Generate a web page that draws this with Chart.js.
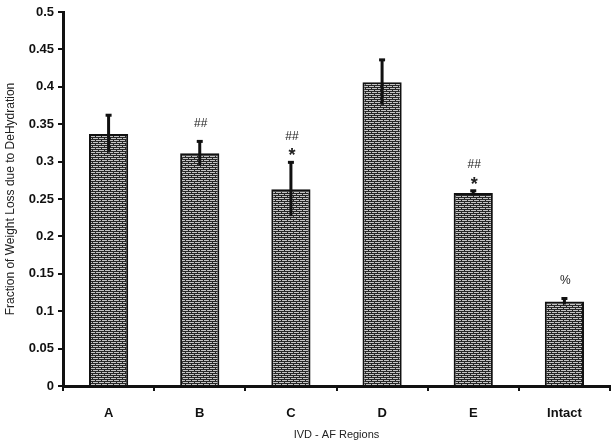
<!DOCTYPE html>
<html>
<head>
<meta charset="utf-8">
<script src="https://cdn.jsdelivr.net/npm/chart.js@4"></script>
<style>
  body { margin: 0; background: #fff; }
  #wrap { width: 616px; height: 446px; }
</style>
</head>
<body>
<div id="wrap"><canvas id="weightChart" width="616" height="446"></canvas></div>
<script>
const regions = ['A', 'B', 'C', 'D', 'E', 'Intact'];
const fractionLoss = [0.337, 0.311, 0.263, 0.406, 0.258, 0.113];
const errorUp = [0.025, 0.016, 0.036, 0.030, 0.003, 0.004];
const hashMarks = ['', '##', '##', '', '##', '%'];
const starMarks = ['', '', '*', '', '*', ''];
const yTicks = [0, 0.05, 0.1, 0.15, 0.2, 0.25, 0.3, 0.35, 0.4, 0.45, 0.5];
const yTickLabels = ['0', '0.05', '0.1', '0.15', '0.2', '0.25', '0.3', '0.35', '0.4', '0.45', '0.5'];

// brick-like fill used by the bars
function brickPattern() {
    const c = document.createElement('canvas');
    c.width = 6;
    c.height = 4;
    const g = c.getContext('2d');
    g.fillStyle = '#262626';
    g.fillRect(0, 0, 6, 4);
    g.fillStyle = '#c4c4c4';
    g.fillRect(0, 0, 5, 1);
    g.fillRect(3, 2, 6, 1);
    g.fillRect(0, 2, 2, 1);
    return g.createPattern(c, 'repeat');
}

// error whiskers + significance marks
const errorBars = {
    id: 'errorBars',
    afterDatasetsDraw(chart) {
        const ctx = chart.ctx;
        const y = chart.scales.y;
        const meta = chart.getDatasetMeta(0);
        ctx.save();
        ctx.strokeStyle = '#111';
        ctx.lineWidth = 3;
        meta.data.forEach((bar, i) => {
            const top = y.getPixelForValue(fractionLoss[i] + errorUp[i]);
            const low = y.getPixelForValue(fractionLoss[i] - errorUp[i]);
            ctx.beginPath();
            ctx.moveTo(bar.x, low);
            ctx.lineTo(bar.x, top);
            ctx.stroke();
            ctx.beginPath();
            ctx.moveTo(bar.x - 3, top);
            ctx.lineTo(bar.x + 3, top);
            ctx.stroke();

            ctx.textAlign = 'center';
            ctx.textBaseline = 'middle';
            ctx.fillStyle = '#222';
            if (starMarks[i]) {
                ctx.font = 'bold 18px "Liberation Sans", Arial, sans-serif';
                ctx.fillText(starMarks[i], bar.x + 1, top - 6);
                ctx.font = '12px "Liberation Sans", Arial, sans-serif';
                ctx.fillText(hashMarks[i], bar.x + 1, top - 26);
            } else if (hashMarks[i]) {
                ctx.font = '12px "Liberation Sans", Arial, sans-serif';
                ctx.fillText(hashMarks[i], bar.x + 1, top - 18);
            }
        });
        ctx.restore();
    }
};

const ctx = document.getElementById('weightChart').getContext('2d');
new Chart(ctx, {
    type: 'bar',
    data: {
        labels: regions,
        datasets: [{
            data: fractionLoss,
            backgroundColor: brickPattern(),
            borderColor: '#111',
            borderWidth: 2,
            categoryPercentage: 1,
            barPercentage: 0.43
        }]
    },
    options: {
        responsive: false,
        animation: false,
        events: [],
        layout: { padding: { top: 12, right: 6, left: 3, bottom: 0 } },
        plugins: { legend: { display: false }, tooltip: { enabled: false } },
        scales: {
            x: {
                grid: { display: true, offset: true, drawOnChartArea: false, color: '#111', lineWidth: 2, tickLength: 5 },
                border: { color: '#111', width: 3 },
                ticks: { color: '#111', padding: 15, font: { family: '"Liberation Sans", Arial, sans-serif', size: 13, weight: 'bold' } },
                title: { display: true, text: 'IVD - AF Regions', color: '#222', padding: { top: 8 }, font: { family: '"Liberation Sans", Arial, sans-serif', size: 11 } },
                afterFit(scale) { scale.height = 60; }
            },
            y: {
                min: 0,
                max: 0.5,
                afterBuildTicks(scale) { scale.ticks = yTicks.map(v => ({ value: v })); },
                grid: { display: true, drawOnChartArea: false, color: '#111', lineWidth: 2, tickLength: 5 },
                border: { color: '#111', width: 3 },
                ticks: {
                    color: '#111',
                    padding: 4,
                    font: { family: '"Liberation Sans", Arial, sans-serif', size: 13, weight: 'bold' },
                    callback: (value, index) => yTickLabels[index]
                },
                title: { display: true, text: 'Fraction of Weight Loss due to DeHydration', color: '#222', padding: { top: 0, bottom: 2 }, font: { family: '"Liberation Sans", Arial, sans-serif', size: 12 } },
                afterFit(scale) { scale.width = 60; }
            }
        }
    },
    plugins: [errorBars]
});
</script>
</body>
</html>
